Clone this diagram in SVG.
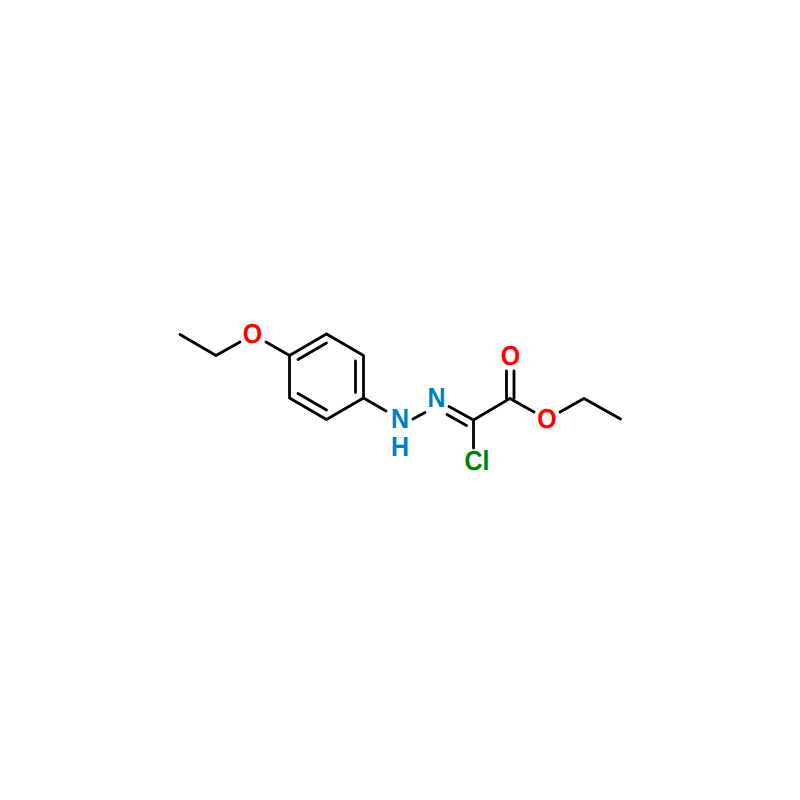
<svg xmlns="http://www.w3.org/2000/svg" width="800" height="800" viewBox="0 0 800 800">
<style>
.b{stroke:#000;stroke-width:2.8;stroke-linecap:round;stroke-linejoin:round;fill:none}
text{font-family:"Liberation Sans",Arial,sans-serif;font-size:25px;font-weight:bold;text-anchor:middle;text-rendering:geometricPrecision}
.o{fill:#ff0000}.n{fill:#0080c0}.cl{fill:#008000}
</style>
<rect width="800" height="800" fill="#fff"/>
<g id="bonds" class="b">
<path d="M180 334.500L216 355.500L240 342"/>
<path d="M266 342L289.500 355.500"/>
<path d="M289.500 355.500L326.500 334L363.500 355.500V398L326.500 419.500L289.500 398Z"/>
<path d="M298 359.500L326.500 343"/>
<path d="M355.500 361V392.500"/>
<path d="M298 393.500L326.500 410"/>
<path d="M363.500 398L386 411"/>
<path d="M413 419L425 412.500"/>
<path d="M449 406.500L473.500 420"/>
<path d="M447 414.500L466.500 425.500"/>
<path d="M473.500 420L510 398.500"/>
<path d="M473.500 420V448"/>
<path d="M506.500 398.500V371"/>
<path d="M514 398.500V371"/>
<path d="M510 398.500L534 412"/>
<path d="M560 412L584 398.500L620.500 419"/>
</g>
<g id="atom-o1"><text class="o" transform="translate(252.500 342.800) scale(1 1.100)">O</text></g>
<g id="atom-nh"><text class="n" transform="translate(400 428) scale(1 1.100)">N</text><text class="n" transform="translate(400 455.500) scale(1 1.100)">H</text></g>
<g id="atom-n2"><text class="n" transform="translate(436.500 406.800) scale(1 1.100)">N</text></g>
<g id="atom-cl"><text class="cl" transform="translate(477 470) scale(1 1.100)">Cl</text></g>
<g id="atom-o2"><text class="o" transform="translate(510.500 364.500) scale(1 1.100)">O</text></g>
<g id="atom-o3"><text class="o" transform="translate(547 428) scale(1 1.100)">O</text></g>
</svg>
